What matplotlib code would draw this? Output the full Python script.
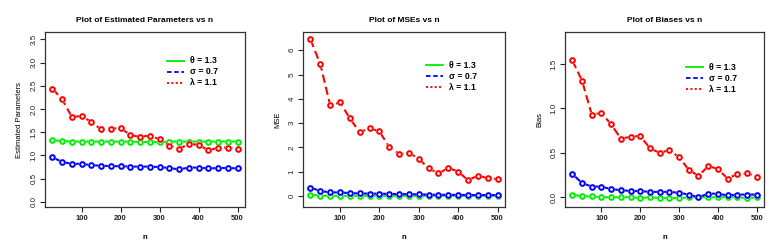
import matplotlib
matplotlib.use("Agg")
import matplotlib.pyplot as plt
from matplotlib.lines import Line2D

plt.rcParams['font.family'] = ['Liberation Sans', 'DejaVu Sans']

n = list(range(25, 501, 25))

est_theta = [1.33, 1.31, 1.30, 1.30, 1.30, 1.30, 1.30, 1.30, 1.30, 1.29,
             1.29, 1.29, 1.30, 1.30, 1.30, 1.30, 1.30, 1.30, 1.30, 1.30]
est_sigma = [0.96, 0.86, 0.82, 0.82, 0.79, 0.78, 0.77, 0.77, 0.76, 0.76,
             0.76, 0.75, 0.73, 0.70, 0.74, 0.74, 0.72, 0.73, 0.73, 0.72]
est_lambda = [2.44, 2.21, 1.83, 1.85, 1.72, 1.56, 1.58, 1.59, 1.44, 1.40,
              1.43, 1.35, 1.21, 1.14, 1.25, 1.23, 1.11, 1.17, 1.17, 1.13]

mse_theta = [0.05, 0.02, 0.01, 0.01, 0.01, 0.01, 0.01, 0.01, 0.01, 0.01,
             0.01, 0.01, 0.01, 0.01, 0.01, 0.01, 0.01, 0.01, 0.01, 0.01]
mse_sigma = [0.35, 0.21, 0.15, 0.15, 0.12, 0.11, 0.10, 0.10, 0.09, 0.08,
             0.08, 0.07, 0.06, 0.05, 0.05, 0.05, 0.04, 0.04, 0.04, 0.04]
mse_lambda = [6.45, 5.42, 3.74, 3.85, 3.20, 2.62, 2.79, 2.66, 2.02, 1.73,
              1.78, 1.54, 1.14, 0.93, 1.16, 1.01, 0.65, 0.84, 0.74, 0.70]

bias_theta = [0.03, 0.01, 0.01, 0.00, 0.00, 0.00, 0.00, -0.01, 0.00, -0.01,
              -0.01, -0.01, 0.00, 0.00, 0.00, 0.00, 0.00, 0.00, -0.01, 0.00]
bias_sigma = [0.26, 0.16, 0.12, 0.12, 0.09, 0.08, 0.07, 0.07, 0.06, 0.06,
              0.06, 0.05, 0.03, 0.00, 0.04, 0.04, 0.02, 0.03, 0.03, 0.03]
bias_lambda = [1.54, 1.31, 0.93, 0.95, 0.82, 0.66, 0.68, 0.69, 0.55, 0.50,
               0.53, 0.45, 0.31, 0.24, 0.35, 0.32, 0.21, 0.26, 0.27, 0.23]

titles = ["Plot of Estimated Parameters vs n", "Plot of MSEs vs n", "Plot of Biases vs n"]
ylabels = ["Estimated Parameters", "MSE", "Bias"]
legend_labels = ["θ = 1.3", "σ = 0.7", "λ = 1.1"]
x_ticks = [100, 200, 300, 400, 500]
y_ticks = [[0.0, 0.5, 1.0, 1.5, 2.0, 2.5, 3.0, 3.5],
           [0, 1, 2, 3, 4, 5, 6],
           [0.0, 0.5, 1.0, 1.5]]
y_ticklabels = [["0.0", "0.5", "1.0", "1.5", "2.0", "2.5", "3.0", "3.5"],
                ["0", "1", "2", "3", "4", "5", "6"],
                ["0.0", "0.5", "1.0", "1.5"]]
ylims = [(-0.11, 3.66), (-0.45, 6.75), (-0.11, 1.86)]

data = [(est_theta, est_sigma, est_lambda),
        (mse_theta, mse_sigma, mse_lambda),
        (bias_theta, bias_sigma, bias_lambda)]

colors = ["#00EE00", "#0000FF", "#FF0000"]
plot_ls = ["-", "-", (0, (4, 2))]
leg_ls = ["-", (0, (2.5, 1.5)), (0, (1.2, 1.2))]

W, H = 774, 249
fig = plt.figure(figsize=(W / 100, H / 100), dpi=100)

# axes boxes in pixels: left, right, top, bottom
boxes = [(45, 245, 32, 207), (303, 505, 32, 207), (565, 764, 32, 207)]
leg_pos = [(0.61, 0.835), (0.61, 0.81), (0.61, 0.80)]

for i in range(3):
    l, r, t, b = boxes[i]
    ax = fig.add_axes([l / W, 1 - b / H, (r - l) / W, (b - t) / H])
    for j, ys in enumerate(data[i]):
        z = 2 + j
        ax.plot(n, ys, color=colors[j], lw=1.5, ls=plot_ls[j], zorder=z)
        ax.plot(n, ys, ls="none", marker="o", ms=5.2, mfc="white", mec="white",
                mew=0, zorder=z + 0.1)
        ax.plot(n, ys, ls="none", marker="o", ms=3.4, mfc="none", mec=colors[j],
                mew=1.4, zorder=z + 0.2)
    ax.set_xlim(6, 519)
    ax.set_ylim(*ylims[i])
    ax.set_xticks(x_ticks)
    ax.set_xticklabels([str(v) for v in x_ticks], fontsize=5.5, fontweight="bold")
    ax.set_yticks(y_ticks[i])
    ax.set_yticklabels(y_ticklabels[i], fontsize=5.8, rotation=90, va="center")
    ax.tick_params(axis="both", length=3.5, width=0.8, pad=2, colors="#222222")
    for s in ax.spines.values():
        s.set_linewidth(0.9)
        s.set_color("#333333")
    ax.set_title(titles[i], fontsize=6, fontweight="bold", pad=7)
    ax.set_xlabel("n", fontsize=5.5, fontweight="bold", labelpad=9)
    ax.set_ylabel(ylabels[i], fontsize=5.5, labelpad=5)

    lx, ly = leg_pos[i]
    for j in range(3):
        yy = ly - j * 0.063
        ax.add_line(Line2D([lx, lx + 0.085], [yy, yy], transform=ax.transAxes,
                           color=colors[j], lw=1.3, ls=leg_ls[j]))
        ax.text(lx + 0.115, yy, legend_labels[j], transform=ax.transAxes,
                fontsize=6.2, fontweight="bold", va="center", ha="left")

fig.savefig("out.png", dpi=100)
